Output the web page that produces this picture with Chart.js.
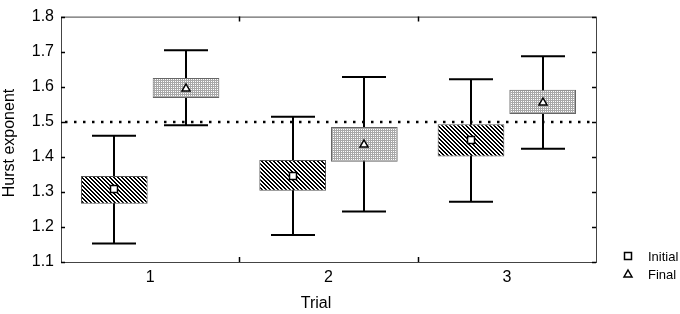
<!DOCTYPE html>
<html>
<head>
<meta charset="utf-8">
<script src="https://cdn.jsdelivr.net/npm/chart.js@4/dist/chart.umd.min.js"></script>
<style>
  html, body { margin: 0; padding: 0; background: #fff; }
  #wrap { width: 680px; height: 314px; }
</style>
</head>
<body>
<div id="wrap"><canvas id="chart"></canvas></div>
<script>
// data
var trials = ['1', '2', '3'];
var yTicks = [1.1, 1.2, 1.3, 1.4, 1.5, 1.6, 1.7, 1.8];

var initialMean = [1.307, 1.346, 1.448];
var initialBoxLow = [1.266, 1.303, 1.401];
var initialBoxHigh = [1.345, 1.391, 1.493];
var initialWhiskLow = [1.153, 1.177, 1.272];
var initialWhiskHigh = [1.460, 1.514, 1.621];

var finalMean = [1.595, 1.436, 1.555];
var finalBoxLow = [1.568, 1.386, 1.522];
var finalBoxHigh = [1.625, 1.485, 1.591];
var finalWhiskLow = [1.490, 1.244, 1.423];
var finalWhiskHigh = [1.704, 1.628, 1.687];

var refLine = 1.5;

var FONT = 'Liberation Sans, Arial, sans-serif';

// hatch patterns for the boxes
function hatchPattern() {
    var c = document.createElement('canvas');
    c.width = 4; c.height = 4;
    var g = c.getContext('2d');
    g.fillStyle = '#fff';
    g.fillRect(0, 0, 4, 4);
    g.fillStyle = '#000';
    for (var i = 0; i < 4; i++) {
        g.fillRect(i, i, 1, 1);
        g.fillRect((i + 1) % 4, i, 1, 1);
    }
    var ctx = document.getElementById('chart').getContext('2d');
    return ctx.createPattern(c, 'repeat');
}

function dotPattern() {
    var c = document.createElement('canvas');
    c.width = 2; c.height = 2;
    var g = c.getContext('2d');
    g.fillStyle = '#a8a8a8';
    g.fillRect(0, 0, 2, 2);
    g.fillStyle = '#fff';
    g.fillRect(1, 1, 1, 1);
    var ctx = document.getElementById('chart').getContext('2d');
    return ctx.createPattern(c, 'repeat');
}

function boxes(lo, hi) {
    return lo.map(function (v, i) { return [v, hi[i]]; });
}

var whiskers = [
    { low: initialWhiskLow, high: initialWhiskHigh, mean: initialMean, marker: 'rect' },
    { low: finalWhiskLow, high: finalWhiskHigh, mean: finalMean, marker: 'triangle' }
];

var boxPlotPlugin = {
    id: 'boxPlotParts',
    beforeDatasetsDraw: function (chart) {
        var ctx = chart.ctx;
        var y = chart.scales.y;
        var area = chart.chartArea;

        // dotted reference line
        ctx.save();
        ctx.strokeStyle = '#000';
        ctx.lineWidth = 2.5;
        ctx.setLineDash([2.5, 6.5]);
        var yr = Math.round(y.getPixelForValue(refLine));
        ctx.beginPath();
        ctx.moveTo(area.left + 4, yr);
        ctx.lineTo(area.right - 2, yr);
        ctx.stroke();
        ctx.restore();

        // whiskers
        ctx.save();
        ctx.strokeStyle = '#000';
        ctx.lineWidth = 2;
        whiskers.forEach(function (w, d) {
            var meta = chart.getDatasetMeta(d);
            meta.data.forEach(function (bar, i) {
                var cx = Math.round(bar.x);
                var yl = y.getPixelForValue(w.low[i]);
                var yh = y.getPixelForValue(w.high[i]);
                ctx.beginPath();
                ctx.moveTo(cx, yl); ctx.lineTo(cx, yh);
                ctx.moveTo(cx - 22, yl); ctx.lineTo(cx + 22, yl);
                ctx.moveTo(cx - 22, yh); ctx.lineTo(cx + 22, yh);
                ctx.stroke();
            });
        });
        ctx.restore();
    },
    afterDatasetsDraw: function (chart) {
        var ctx = chart.ctx;
        var y = chart.scales.y;
        var x = chart.scales.x;
        var area = chart.chartArea;

        // mean markers
        whiskers.forEach(function (w, d) {
            var meta = chart.getDatasetMeta(d);
            meta.data.forEach(function (bar, i) {
                drawMarker(ctx, w.marker, Math.round(bar.x), Math.round(y.getPixelForValue(w.mean[i])));
            });
        });

        // frame and inward tick marks
        ctx.save();
        ctx.strokeStyle = '#444';
        ctx.lineWidth = 1;
        ctx.strokeRect(area.left + 0.5, area.top + 0.5, area.right - area.left, area.bottom - area.top);
        ctx.strokeStyle = '#000';
        ctx.lineWidth = 1.5;
        ctx.beginPath();
        yTicks.forEach(function (t) {
            var py = Math.round(y.getPixelForValue(t)) + 0.5;
            ctx.moveTo(area.left, py); ctx.lineTo(area.left + 4, py);
            ctx.moveTo(area.right, py); ctx.lineTo(area.right - 4, py);
        });
        for (var i = 0; i < trials.length - 1; i++) {
            var px = Math.round((x.getPixelForValue(i) + x.getPixelForValue(i + 1)) / 2) + 0.5;
            ctx.moveTo(px, area.top); ctx.lineTo(px, area.top + 5);
            ctx.moveTo(px, area.bottom); ctx.lineTo(px, area.bottom - 5);
        }
        ctx.stroke();
        ctx.restore();

        // axis titles
        ctx.save();
        ctx.font = '16px ' + FONT;
        ctx.fillStyle = '#000';
        ctx.textAlign = 'center';
        ctx.textBaseline = 'middle';
        ctx.fillText('Trial', 316, 304);
        ctx.translate(10, 143);
        ctx.rotate(-Math.PI / 2);
        ctx.fillText('Hurst exponent', 0, 0);
        ctx.restore();

        // legend
        ctx.save();
        ctx.font = '13px ' + FONT;
        ctx.fillStyle = '#000';
        ctx.textBaseline = 'middle';
        drawMarker(ctx, 'rect', 628, 256);
        ctx.fillText('Initial', 648, 257);
        drawMarker(ctx, 'triangle', 628, 274);
        ctx.fillText('Final', 648, 275);
        ctx.restore();
    }
};

function drawMarker(ctx, kind, cx, cy) {
    ctx.save();
    ctx.fillStyle = '#fff';
    ctx.strokeStyle = '#000';
    ctx.lineWidth = 1.5;
    ctx.beginPath();
    if (kind === 'rect') {
        ctx.rect(cx - 3.5, cy - 3.5, 7, 7);
    } else {
        ctx.moveTo(cx, cy - 4);
        ctx.lineTo(cx + 4, cy + 3);
        ctx.lineTo(cx - 4, cy + 3);
        ctx.closePath();
    }
    ctx.fill();
    ctx.stroke();
    ctx.restore();
}

new Chart(document.getElementById('chart'), {
    type: 'bar',
    data: {
        labels: trials,
        datasets: [{
            label: 'Initial',
            data: boxes(initialBoxLow, initialBoxHigh),
            backgroundColor: hatchPattern(),
            borderColor: '#555',
            borderWidth: 1,
            borderSkipped: false
        }, {
            label: 'Final',
            data: boxes(finalBoxLow, finalBoxHigh),
            backgroundColor: dotPattern(),
            borderColor: '#666',
            borderWidth: 1,
            borderSkipped: false
        }]
    },
    options: {
        responsive: true,
        maintainAspectRatio: false,
        animation: false,
        categoryPercentage: 0.804,
        barPercentage: 0.93,
        layout: {
            padding: { top: 9, right: 84, bottom: 0, left: 0 }
        },
        plugins: {
            legend: { display: false },
            tooltip: { enabled: false }
        },
        scales: {
            x: {
                grid: { display: false, drawTicks: false },
                border: { display: false },
                ticks: { color: '#000', font: { family: FONT, size: 16 }, padding: 6 },
                afterFit: function (s) { s.height = 52; }
            },
            y: {
                min: 1.1,
                max: 1.8,
                grid: { display: false, drawTicks: false },
                border: { display: false },
                afterBuildTicks: function (s) {
                    s.ticks = yTicks.map(function (v) { return { value: v }; });
                },
                ticks: {
                    color: '#000',
                    font: { family: FONT, size: 16 },
                    padding: 7,
                    callback: function (v) { return v.toFixed(1); }
                },
                afterFit: function (s) { s.width = 61; }
            }
        }
    },
    plugins: [boxPlotPlugin]
});
</script>
</body>
</html>
